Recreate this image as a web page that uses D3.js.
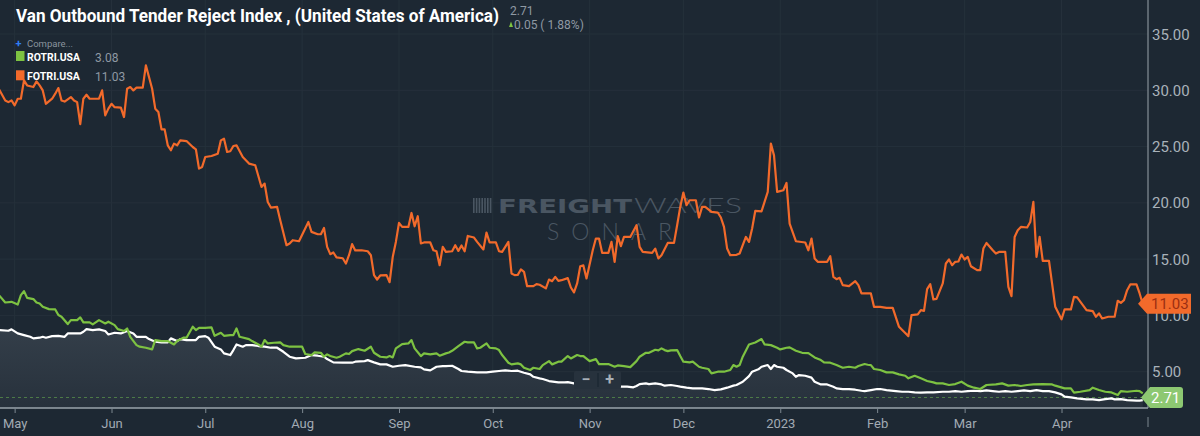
<!DOCTYPE html>
<html>
<head>
<meta charset="utf-8">
<script src="https://cdn.jsdelivr.net/npm/d3@7"></script>
<style>
  body { margin: 0; background: #1d2833; }
  svg { display: block; font-family: Roboto, "Noto Sans", sans-serif; }
</style>
</head>
<body>
<div class="chartContainer"></div>
<script>
const WIDTH = 1200;
const HEIGHT = 436;
const PLOT_RIGHT = 1148;
const PLOT_BOTTOM = 408;

const START = new Date(2022, 3, 26);

// days after START
const FOTRI_DAYS = [
  0, 2, 3, 4, 5, 6, 7, 8, 9, 11,
  12, 13, 14, 15, 17, 18, 19, 20, 21, 23,
  24, 25, 26, 27, 28, 29, 32, 33, 34, 35,
  36, 37, 39, 40, 41, 42, 43, 44, 46, 47,
  49, 50, 51, 52, 53, 54, 55, 56, 57, 58,
  60, 62, 63, 64, 65, 66, 68, 70, 71, 72,
  73, 74, 75, 76, 78, 80, 82, 84, 85, 86,
  87, 89, 90, 92, 93, 94, 96, 99, 100, 102,
  103, 104, 105, 106, 107, 108, 110, 111, 112, 113,
  114, 116, 118, 119, 120, 121, 122, 124, 125, 126,
  127, 128, 129, 131, 132, 133, 134, 135, 136, 138,
  139, 140, 141, 142, 143, 145, 146, 147, 148, 149,
  150, 152, 153, 155, 156, 157, 159, 160, 161, 163,
  164, 165, 166, 167, 168, 169, 171, 172, 173, 175,
  176, 177, 178, 179, 180, 182, 183, 184, 185, 186,
  187, 188, 190, 191, 192, 193, 195, 196, 197, 198,
  199, 200, 202, 204, 205, 206, 209, 210, 211, 212,
  214, 216, 217, 218, 219, 220, 221, 223, 224, 225,
  226, 228, 230, 231, 232, 233, 234, 236, 237, 238,
  239, 240, 241, 242, 244, 246, 247, 248, 249, 251,
  252, 253, 255, 258, 259, 260, 261, 262, 265, 266,
  267, 268, 269, 270, 272, 274, 275, 276, 279, 280,
  282, 284, 286, 288, 290, 291, 292, 294, 295, 296,
  297, 298, 299, 300, 302, 303, 304, 305, 306, 307,
  308, 309, 310, 311, 313, 314, 315, 316, 318, 319,
  320, 322, 323, 324, 325, 326, 327, 329, 330, 331,
  332, 333, 334, 336, 338, 340, 341, 343, 344, 345,
  348, 350, 351, 352, 353, 355, 357, 358, 359, 360,
  361, 362, 364, 365, 366
];
const FOTRI = [
  30.1, 29.1, 28.95, 29.1, 28.66, 29.25, 29.25, 30.88, 30.43, 30.29,
  30.79, 30.43, 29.99, 28.8, 29.25, 29.7, 30.2, 29.1, 29.0, 29.4,
  29.1, 28.95, 27.0, 29.25, 29.6, 29.25, 29.25, 29.99, 27.77, 28.37,
  28.8, 28.5, 28.46, 27.62, 30.14, 30.29, 29.99, 30.23, 30.23, 32.21,
  30.14, 28.37, 28.07, 26.53, 26.53, 25.11, 24.67, 25.26, 25.11, 25.55,
  25.49, 24.96, 24.76, 23.04, 23.19, 24.07, 24.16, 24.37, 25.55, 25.7,
  24.52, 24.58, 25.05, 25.11, 24.07, 23.49, 23.34, 21.41, 21.71, 20.08,
  19.58, 19.64, 18.46, 16.24, 16.39, 16.68, 16.59, 18.3, 17.42, 17.21,
  17.21, 17.77, 16.09, 15.44, 15.59, 15.15, 15.08, 14.61, 15.35, 16.33,
  15.77, 15.79, 15.7, 15.35, 13.58, 13.19, 13.55, 13.58, 12.95, 15.2,
  16.53, 18.22, 17.86, 17.86, 19.1, 17.92, 18.81, 16.39, 16.48, 16.48,
  15.79, 15.7, 14.46, 16.09, 15.64, 15.7, 16.24, 15.73, 16.21, 15.7,
  17.06, 16.92, 16.53, 15.86, 17.36, 16.48, 16.48, 15.7, 15.64, 16.53,
  13.73, 13.58, 13.6, 14.08, 13.87, 12.6, 12.6, 12.78, 12.72, 12.4,
  13.19, 13.04, 13.43, 13.07, 13.13, 13.31, 12.48, 12.04, 12.84, 14.37,
  14.44, 13.28, 15.79, 16.83, 16.83, 15.56, 15.56, 16.53, 14.76, 17.04,
  16.15, 16.97, 16.97, 18.01, 16.09, 15.64, 15.56, 15.94, 15.06, 15.35,
  16.44, 16.44, 18.01, 19.64, 20.91, 19.79, 20.23, 20.23, 18.7, 19.64,
  19.64, 19.19, 19.14, 18.7, 17.86, 15.94, 15.35, 15.38, 15.5, 16.24,
  16.97, 16.53, 17.72, 19.28, 19.25, 20.97, 25.26, 24.22, 20.97, 21.12,
  21.77, 18.16, 16.59, 16.48, 15.79, 16.83, 15.06, 14.76, 14.76, 15.26,
  13.43, 13.22, 13.34, 12.69, 12.6, 13.04, 12.69, 11.95, 11.95, 10.76,
  10.76, 10.67, 10.67, 8.99, 8.43, 8.16, 10.03, 10.09, 10.47, 10.41,
  12.33, 12.78, 11.42, 11.47, 12.84, 14.61, 14.97, 14.46, 14.76, 14.79,
  15.41, 14.97, 15.2, 14.37, 14.02, 14.02, 15.94, 16.44, 15.79, 15.5,
  15.64, 15.64, 12.54, 11.71, 16.97, 17.57, 17.86, 17.81, 18.3, 20.08,
  15.2, 16.97, 14.85, 14.85, 10.76, 9.65, 10.53, 10.53, 11.65, 11.6,
  10.47, 10.38, 9.88, 10.18, 9.73, 9.88, 9.88, 11.3, 11.12, 11.36,
  12.24, 12.75, 12.75, 11.95, 11.03
];

const ROTRI_DAYS = [
  0, 2, 4, 6, 7, 8, 9, 11, 12, 13,
  14, 16, 18, 19, 20, 22, 23, 25, 26, 27,
  29, 30, 32, 34, 35, 37, 38, 40, 41, 42,
  44, 45, 47, 49, 50, 52, 54, 56, 57, 59,
  60, 62, 63, 64, 66, 68, 69, 71, 72, 74,
  75, 76, 77, 80, 81, 83, 84, 85, 86, 88,
  90, 91, 93, 95, 97, 98, 100, 101, 103, 104,
  105, 106, 108, 109, 111, 112, 113, 115, 117, 119,
  120, 122, 124, 125, 126, 127, 129, 131, 132, 133,
  135, 136, 138, 140, 141, 143, 144, 145, 147, 149,
  150, 152, 153, 154, 156, 157, 159, 160, 161, 163,
  164, 166, 167, 168, 170, 171, 173, 174, 176, 177,
  179, 180, 182, 183, 185, 186, 187, 189, 191, 192,
  194, 195, 197, 198, 200, 202, 204, 205, 207, 208,
  210, 211, 212, 213, 214, 215, 217, 218, 219, 221,
  222, 224, 225, 227, 228, 230, 232, 234, 235, 236,
  237, 238, 240, 242, 244, 245, 247, 249, 250, 252,
  253, 255, 257, 259, 261, 263, 264, 266, 268, 270,
  272, 274, 275, 277, 278, 279, 280, 282, 284, 286,
  288, 290, 291, 293, 295, 297, 299, 300, 302, 304,
  306, 308, 310, 312, 314, 316, 319, 321, 323, 325,
  327, 329, 331, 334, 337, 338, 341, 343, 344, 346,
  349, 350, 352, 354, 356, 358, 359, 361, 364, 365,
  366
];
const ROTRI = [
  11.8, 11.15, 11.21, 10.97, 11.8, 12.16, 11.56, 11.45, 11.15, 11.06,
  10.77, 10.56, 10.53, 10.03, 9.88, 9.23, 9.58, 9.58, 9.82, 9.38,
  9.38, 9.2, 9.58, 9.29, 9.44, 9.14, 8.78, 8.61, 8.84, 8.1,
  7.36, 7.22, 7.13, 6.98, 7.81, 7.72, 7.72, 7.42, 7.72, 8.02,
  8.02, 9.0, 8.7, 8.9, 8.9, 8.93, 8.19, 8.46, 8.19, 8.25,
  8.25, 8.84, 8.1, 7.9, 7.72, 7.42, 7.22, 7.81, 7.51, 7.57,
  7.6, 7.36, 7.22, 7.22, 7.22, 6.57, 6.48, 6.71, 6.68, 6.33,
  6.54, 6.39, 6.24, 6.33, 6.63, 6.57, 6.83, 7.01, 6.86, 7.22,
  6.68, 6.33, 6.27, 6.39, 6.27, 7.07, 7.45, 7.51, 7.81, 7.07,
  6.39, 6.63, 6.54, 6.63, 6.42, 6.63, 6.71, 6.86, 7.28, 7.66,
  7.6, 7.6, 7.07, 7.13, 7.51, 7.13, 7.07, 6.92, 6.48, 5.8,
  5.65, 5.74, 5.65, 5.35, 5.15, 5.35, 5.24, 5.59, 5.94, 5.65,
  5.89, 5.89, 6.39, 6.18, 6.48, 6.39, 6.39, 5.94, 6.12, 5.68,
  5.68, 5.68, 5.44, 5.56, 5.5, 5.41, 5.94, 6.33, 6.68, 6.68,
  6.95, 6.89, 7.07, 6.92, 6.83, 6.89, 6.92, 6.39, 5.89, 5.83,
  5.89, 5.44, 5.35, 5.24, 4.85, 5.0, 5.0, 5.15, 5.59, 5.44,
  5.59, 6.33, 7.42, 7.6, 7.9, 7.42, 7.36, 7.13, 6.98, 7.13,
  7.16, 6.86, 6.68, 6.65, 6.27, 6.03, 5.83, 5.8, 5.59, 5.35,
  5.44, 5.35, 5.5, 5.68, 5.62, 5.59, 5.24, 5.15, 4.94, 4.94,
  4.76, 4.64, 4.41, 4.64, 4.41, 4.17, 4.05, 3.96, 3.96, 3.82,
  3.9, 4.11, 3.76, 3.58, 3.46, 3.82, 3.87, 3.96, 3.76, 3.82,
  3.73, 3.82, 3.87, 3.9, 3.87, 3.76, 3.52, 3.52, 3.14, 3.22,
  3.37, 3.58, 3.37, 3.22, 3.16, 2.93, 3.28, 3.22, 3.31, 3.28,
  3.08
];

const VOTRI_DAYS = [
  0, 3, 4, 6, 8, 10, 11, 13, 14, 15,
  17, 19, 21, 22, 26, 27, 28, 30, 32, 34,
  35, 37, 39, 41, 43, 44, 47, 48, 50, 52,
  54, 55, 57, 58, 60, 63, 64, 66, 67, 69,
  71, 72, 74, 75, 76, 78, 79, 81, 83, 85,
  87, 89, 91, 93, 95, 98, 100, 102, 104, 105,
  107, 110, 113, 114, 117, 118, 120, 122, 124, 126,
  128, 130, 133, 135, 136, 138, 140, 142, 143, 145,
  147, 148, 150, 153, 156, 158, 160, 162, 164, 166,
  168, 170, 171, 173, 174, 176, 179, 181, 182, 184,
  199, 201, 203, 204, 205, 207, 208, 210, 212, 213,
  215, 217, 218, 220, 222, 225, 227, 229, 231, 233,
  235, 236, 238, 240, 241, 243, 244, 246, 247, 248,
  249, 251, 252, 254, 255, 256, 258, 260, 261, 263,
  265, 267, 268, 270, 272, 274, 276, 277, 279, 281,
  282, 284, 287, 289, 291, 293, 295, 297, 299, 302,
  304, 306, 308, 310, 312, 314, 316, 318, 320, 322,
  324, 326, 328, 330, 332, 334, 336, 338, 340, 341,
  343, 345, 348, 350, 352, 354, 356, 357, 359, 361,
  364, 365, 366
];
const VOTRI = [
  8.7, 8.64, 8.76, 8.4, 8.25, 8.1, 7.96, 8.02, 8.1, 8.02,
  8.16, 8.19, 8.1, 8.4, 8.4, 8.55, 8.78, 8.7, 8.76, 8.61,
  8.31, 8.46, 8.4, 8.61, 8.4, 8.1, 8.1, 7.9, 7.66, 7.6,
  7.6, 7.96, 7.72, 7.9, 7.81, 7.81, 8.1, 8.16, 8.02, 7.22,
  6.98, 6.63, 6.48, 6.92, 7.42, 7.22, 7.36, 7.36, 7.28, 7.22,
  7.13, 7.13, 6.77, 6.33, 6.18, 6.24, 6.48, 6.42, 6.33, 6.12,
  5.83, 5.8, 5.8, 5.89, 5.94, 6.03, 5.83, 5.65, 5.65, 5.44,
  5.53, 5.59, 5.44, 5.38, 5.21, 5.12, 5.44, 5.5, 5.5, 5.53,
  5.24, 5.06, 5.0, 4.94, 4.94, 5.0, 5.06, 5.12, 5.06, 5.09,
  4.91, 4.76, 4.55, 4.41, 4.35, 4.17, 4.05, 4.05, 4.08, 3.96,
  3.67, 3.67, 3.61, 3.73, 3.9, 3.96, 3.9, 3.96, 3.87, 3.76,
  3.82, 3.73, 3.67, 3.58, 3.52, 3.52, 3.46, 3.37, 3.43, 3.58,
  3.76, 3.82, 4.11, 4.61, 5.0, 5.21, 5.44, 5.59, 5.24, 5.59,
  5.44, 5.35, 5.15, 4.85, 4.55, 4.7, 4.64, 4.47, 4.11, 3.87,
  3.87, 3.67, 3.52, 3.46, 3.46, 3.4, 3.31, 3.28, 3.37, 3.46,
  3.46, 3.37, 3.28, 3.22, 3.22, 3.16, 3.14, 3.16, 3.16, 3.22,
  3.22, 3.28, 3.22, 3.28, 3.31, 3.28, 3.34, 3.28, 3.22, 3.28,
  3.22, 3.28, 3.34, 3.28, 3.37, 3.28, 3.28, 3.16, 2.99, 2.78,
  2.72, 2.63, 2.54, 2.54, 2.48, 2.57, 2.63, 2.54, 2.57, 2.48,
  2.43, 2.43, 2.48
];

const Y_TICKS = [5, 10, 15, 20, 25, 30, 35];
const MONTH_TICKS = d3.timeMonth.range(new Date(2022, 4, 1), new Date(2023, 4, 1));

const TITLE = 'Van Outbound Tender Reject Index , (United States of America)';
const LAST_VALUE = 2.71;
const LAST_CHANGE = '0.05 ( 1.88%)';
const LEGEND = [
  {name: 'ROTRI.USA', value: '3.08', color: '#7dc242'},
  {name: 'FOTRI.USA', value: '11.03', color: '#f26a2b'}
];
const FOTRI_LAST = 11.03;

function makeSeries(days, values) {
  return days.map(function (d, i) {
    return {date: d3.timeDay.offset(START, d), value: values[i]};
  });
}

var x = d3.scaleTime()
  .domain([START, d3.timeDay.offset(START, 368)])
  .range([-1, 1149]);
var y = d3.scaleLinear().domain([5, 35]).range([371.7, 34]);

var svg = d3.select('.chartContainer').append('svg')
  .attr('width', WIDTH)
  .attr('height', HEIGHT);

svg.append('rect').attr('width', WIDTH).attr('height', HEIGHT).attr('fill', '#1d2833');

var defs = svg.append('defs');
defs.append('clipPath').attr('id', 'plotClip')
  .append('rect').attr('x', 0).attr('y', 0).attr('width', PLOT_RIGHT).attr('height', PLOT_BOTTOM);
var grad = defs.append('linearGradient').attr('id', 'areaFill')
  .attr('gradientUnits', 'userSpaceOnUse')
  .attr('x1', 0).attr('y1', 300).attr('x2', 0).attr('y2', PLOT_BOTTOM);
grad.append('stop').attr('offset', 0).attr('stop-color', '#38434e');
grad.append('stop').attr('offset', 1).attr('stop-color', '#27313c');

// grid
var grid = svg.append('g');
grid.selectAll('.vgrid').data(MONTH_TICKS).enter().append('line')
  .attr('x1', function (d) { return x(d); })
  .attr('x2', function (d) { return x(d); })
  .attr('y1', 0).attr('y2', PLOT_BOTTOM)
  .attr('stroke', '#25303b').attr('stroke-width', 1);
grid.selectAll('.hgrid').data(Y_TICKS).enter().append('line')
  .attr('x1', 0).attr('x2', PLOT_RIGHT)
  .attr('y1', function (d) { return y(d); })
  .attr('y2', function (d) { return y(d); })
  .attr('stroke', '#25303b').attr('stroke-width', 1);

// watermark
var wm = svg.append('g').attr('fill', '#4a5662');
for (var i = 0; i < 7; i++) {
  wm.append('rect').attr('x', 473 + i * 2.8).attr('y', 198).attr('width', 1.6).attr('height', 15);
}
wm.append('text').attr('x', 498).attr('y', 213)
  .attr('font-family', '"DejaVu Sans"').attr('font-weight', 700).attr('font-size', 20)
  .attr('textLength', 134).attr('lengthAdjust', 'spacingAndGlyphs')
  .text('FREIGHT');
wm.append('text').attr('x', 634).attr('y', 213)
  .attr('font-family', 'Lato').attr('font-weight', 300).attr('font-size', 21)
  .attr('textLength', 108).attr('lengthAdjust', 'spacingAndGlyphs')
  .text('WAVES');
wm.append('text').attr('x', 547).attr('y', 240)
  .attr('font-family', 'Lato').attr('font-weight', 300).attr('font-size', 23)
  .attr('textLength', 125).attr('lengthAdjust', 'spacing')
  .text('SONAR');

var plot = svg.append('g').attr('clip-path', 'url(#plotClip)');

var votri = makeSeries(VOTRI_DAYS, VOTRI);
var rotri = makeSeries(ROTRI_DAYS, ROTRI);
var fotri = makeSeries(FOTRI_DAYS, FOTRI);

var line = d3.line()
  .x(function (d) { return x(d.date); })
  .y(function (d) { return y(d.value); });
var area = d3.area()
  .x(function (d) { return x(d.date); })
  .y0(PLOT_BOTTOM)
  .y1(function (d) { return y(d.value); });

plot.append('path').datum(votri).attr('d', area).attr('fill', 'url(#areaFill)');

plot.append('line')
  .attr('x1', 0).attr('x2', x(votri[votri.length - 1].date))
  .attr('y1', y(LAST_VALUE)).attr('y2', y(LAST_VALUE))
  .attr('stroke', '#4f7d48').attr('stroke-width', 1).attr('stroke-dasharray', '3,3');

plot.append('path').datum(votri).attr('d', line)
  .attr('fill', 'none').attr('stroke', '#ffffff').attr('stroke-width', 2.2).attr('stroke-linejoin', 'round');
plot.append('path').datum(rotri).attr('d', line)
  .attr('fill', 'none').attr('stroke', '#7dc242').attr('stroke-width', 2.2).attr('stroke-linejoin', 'round');
plot.append('path').datum(fotri).attr('d', line)
  .attr('fill', 'none').attr('stroke', '#f26a2b').attr('stroke-width', 2.2).attr('stroke-linejoin', 'round');

// axes
svg.append('line')
  .attr('x1', 0).attr('x2', PLOT_RIGHT).attr('y1', PLOT_BOTTOM).attr('y2', PLOT_BOTTOM)
  .attr('stroke', '#9aa3ab').attr('stroke-width', 1.5);
svg.append('line')
  .attr('x1', PLOT_RIGHT).attr('x2', PLOT_RIGHT).attr('y1', 0).attr('y2', PLOT_BOTTOM)
  .attr('stroke', '#9aa3ab').attr('stroke-width', 1);

var xAxis = d3.axisBottom(x)
  .tickValues(MONTH_TICKS)
  .tickFormat(function (d) {
    return d.getMonth() === 0 ? d3.timeFormat('%Y')(d) : d3.timeFormat('%b')(d);
  })
  .tickSize(5)
  .tickPadding(6);
var gx = svg.append('g').attr('transform', 'translate(0,' + PLOT_BOTTOM + ')').call(xAxis);
gx.select('.domain').remove();
gx.selectAll('line').attr('stroke', '#7d8790');
gx.selectAll('text').attr('fill', '#a2abb3').attr('font-size', 13).attr('font-family', 'Roboto');
svg.append('line')
  .attr('x1', PLOT_RIGHT).attr('x2', PLOT_RIGHT).attr('y1', 417).attr('y2', 427)
  .attr('stroke', '#7d8790').attr('stroke-width', 1);

svg.append('g').selectAll('text').data(Y_TICKS).enter().append('text')
  .attr('x', 1152)
  .attr('y', function (d) { return y(d) + 5.5; })
  .attr('fill', '#a9b2ba').attr('font-size', 15)
  .text(function (d) { return d3.format('.2f')(d); });

// zoom control
var zc = svg.append('g');
zc.append('rect').attr('x', 574).attr('y', 371).attr('width', 47).attr('height', 18)
  .attr('rx', 2).attr('fill', '#27323d');
zc.append('line').attr('x1', 598).attr('x2', 598).attr('y1', 373).attr('y2', 387)
  .attr('stroke', '#1d2833').attr('stroke-width', 1.5);
zc.append('text').attr('x', 586).attr('y', 385).attr('text-anchor', 'middle')
  .attr('fill', '#a7b0b8').attr('font-size', 16).attr('font-weight', 700).text('\u2212');
zc.append('text').attr('x', 609.5).attr('y', 385).attr('text-anchor', 'middle')
  .attr('fill', '#a7b0b8').attr('font-size', 16).attr('font-weight', 700).text('+');

// last value tags
var oy = y(FOTRI_LAST);
svg.append('path')
  .attr('d', 'M1138,' + oy + ' L1147,' + (oy - 10) + ' L1191,' + (oy - 10) + ' L1191,' + (oy + 10) + ' L1147,' + (oy + 10) + ' Z')
  .attr('fill', '#f26a2b');
svg.append('text').attr('x', 1151).attr('y', oy + 5.5)
  .attr('fill', '#9b2f12').attr('font-size', 15).text(d3.format('.2f')(FOTRI_LAST));

var gy = y(LAST_VALUE);
svg.append('path')
  .attr('d', 'M1141,' + gy + ' L1150,' + (gy - 10.5) + ' L1180,' + (gy - 10.5) + ' Q1183,' + (gy - 10.5) + ' 1183,' + (gy - 7.5) +
    ' L1183,' + (gy + 7.5) + ' Q1183,' + (gy + 10.5) + ' 1180,' + (gy + 10.5) + ' L1150,' + (gy + 10.5) + ' Z')
  .attr('fill', '#8dc872');
svg.append('text').attr('x', 1151).attr('y', gy + 5.5)
  .attr('fill', '#ffffff').attr('font-size', 15).text(d3.format('.2f')(LAST_VALUE));

// title and legend
svg.append('text').attr('x', 16).attr('y', 22)
  .attr('fill', '#ffffff').attr('font-size', 18).attr('font-weight', 700)
  .attr('textLength', 483).attr('lengthAdjust', 'spacingAndGlyphs')
  .text(TITLE);
svg.append('text').attr('x', 510).attr('y', 15)
  .attr('fill', '#8f99a3').attr('font-size', 12).text(d3.format('.2f')(LAST_VALUE));
svg.append('path').attr('d', 'M509,27 L511,21.5 L513,27 Z').attr('fill', '#7dc242');
svg.append('text').attr('x', 514).attr('y', 28.5)
  .attr('fill', '#8f99a3').attr('font-size', 12).text(LAST_CHANGE);

svg.append('text').attr('x', 15.5).attr('y', 47)
  .attr('fill', '#2f7df5').attr('font-size', 11).attr('font-weight', 700).text('+');
svg.append('text').attr('x', 27).attr('y', 46.7)
  .attr('fill', '#8a949e').attr('font-size', 9.5).text('Compare...');

var legend = svg.append('g').selectAll('g').data(LEGEND).enter().append('g')
  .attr('transform', function (d, i) { return 'translate(0,' + (i * 19.3) + ')'; });
legend.append('rect').attr('x', 16).attr('y', 51).attr('width', 8.5).attr('height', 10)
  .attr('fill', function (d) { return d.color; });
legend.append('text').attr('x', 27).attr('y', 61)
  .attr('fill', '#ffffff').attr('font-size', 11).attr('font-weight', 700)
  .attr('textLength', 53).attr('lengthAdjust', 'spacingAndGlyphs')
  .text(function (d) { return d.name; });
legend.append('text').attr('x', 95).attr('y', 61.5)
  .attr('fill', '#8f99a3').attr('font-size', 12)
  .text(function (d) { return d.value; });
</script>
</body>
</html>
